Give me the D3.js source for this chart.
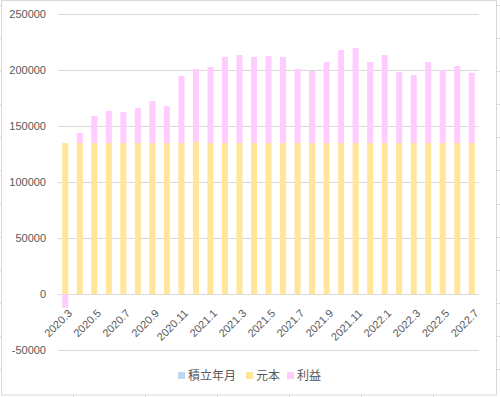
<!DOCTYPE html>
<html>
<head>
  <meta charset="utf-8">
  <script src="https://d3js.org/d3.v7.min.js"></script>
  <style>
    body { margin: 0; background: #fff; }
    text { font-family: "Liberation Sans", Arial, sans-serif; fill: #595959; }
    .legend text { font-family: "Noto Sans CJK JP", sans-serif; }
  </style>
</head>
<body>
<script>
// months (積立年月)
var months = ["2020.3","2020.4","2020.5","2020.6","2020.7","2020.8","2020.9","2020.10","2020.11","2020.12",
              "2021.1","2021.2","2021.3","2021.4","2021.5","2021.6","2021.7","2021.8","2021.9","2021.10","2021.11","2021.12",
              "2022.1","2022.2","2022.3","2022.4","2022.5","2022.6","2022.7"];
// 元本
var principal = [135000,135000,135000,135000,135000,135000,135000,135000,135000,136000,
                 135000,135000,135000,135000,135000,135000,135000,135000,135000,135000,135000,135000,
                 135000,135000,135000,135000,135000,135000,135000];
// 利益
var profit = [-12000,9000,24200,28700,27800,31400,37600,33100,59900,65200,
              68000,76900,78700,76900,77800,76900,66200,64400,72400,83100,84900,72400,
              78700,63500,60800,72400,65300,68800,62700];
var yTicks = [-50000,0,50000,100000,150000,200000,250000];
var legendItems = ["積立年月","元本","利益"];
var colors = {"積立年月": "#bdd7ee", "元本": "#ffe699", "利益": "#ffccff"};

var W = 500, H = 397;
var svg = d3.select("body").append("svg").attr("width", W).attr("height", H);

// outer chart border + bits of sheet grid peeking out
svg.append("rect").attr("x", 1.5).attr("y", 0.5).attr("width", 495).attr("height", 394.5)
   .attr("fill", "none").attr("stroke", "#d9d9d9");
[5, 38, 71, 104, 137, 170, 204, 237, 270, 303, 336, 369].forEach(function (yy) {
  svg.append("line").attr("x1", 0).attr("x2", 1).attr("y1", yy + .5).attr("y2", yy + .5).attr("stroke", "#d9d9d9");
  svg.append("line").attr("x1", 497).attr("x2", 500).attr("y1", yy + .5).attr("y2", yy + .5).attr("stroke", "#d9d9d9");
});
[73, 145, 217, 289, 361, 433].forEach(function (xx) {
  svg.append("line").attr("x1", xx + .5).attr("x2", xx + .5).attr("y1", 395).attr("y2", 397).attr("stroke", "#d9d9d9");
});

var x = d3.scaleBand().domain(months).range([58, 479]).paddingInner(0.587).paddingOuter(0.2935);
var y = d3.scaleLinear().domain([-50000, 250000]).range([350.3, 14.3]);

// gridlines
svg.append("g").selectAll("line").data(yTicks).enter().append("line")
   .attr("x1", 58).attr("x2", 479)
   .attr("y1", function (d) { return Math.round(y(d)) + .5; })
   .attr("y2", function (d) { return Math.round(y(d)) + .5; })
   .attr("stroke", "#d9d9d9").attr("stroke-width", 1);

// y labels
svg.append("g").selectAll("text").data(yTicks).enter().append("text")
   .attr("x", 46).attr("y", function (d) { return y(d) + 4; })
   .attr("text-anchor", "end").style("font-size", "11px")
   .text(function (d) { return d; });

// bars: 元本
svg.append("g").selectAll("rect").data(months).enter().append("rect")
   .attr("x", function (d) { return x(d); })
   .attr("width", x.bandwidth())
   .attr("y", function (d, i) { return y(principal[i]); })
   .attr("height", function (d, i) { return y(0) - y(principal[i]); })
   .attr("fill", colors["元本"]);

// bars: 利益 (stacked on top, negatives go below zero)
svg.append("g").selectAll("rect").data(months).enter().append("rect")
   .attr("x", function (d) { return x(d); })
   .attr("width", x.bandwidth())
   .attr("y", function (d, i) {
     return profit[i] >= 0 ? y(principal[i] + profit[i]) : y(0);
   })
   .attr("height", function (d, i) {
     return profit[i] >= 0 ? y(principal[i]) - y(principal[i] + profit[i]) : y(profit[i]) - y(0);
   })
   .attr("fill", colors["利益"]);

// x labels, every other month
svg.append("g").selectAll("text").data(months.filter(function (d, i) { return i % 2 === 0; }))
   .enter().append("text")
   .attr("transform", function (d) {
     return "translate(" + (x(d) + x.bandwidth() / 2 + 7.5) + ",314) rotate(-45)";
   })
   .attr("text-anchor", "end").style("font-size", "11px")
   .text(function (d) { return d; });

// legend
var lg = svg.append("g").attr("class", "legend");
var lx = [178, 246, 287];
legendItems.forEach(function (name, i) {
  lg.append("rect").attr("x", lx[i]).attr("y", 372).attr("width", 7).attr("height", 7).attr("fill", colors[name]);
  lg.append("text").attr("x", lx[i] + 10).attr("y", 380).style("font-size", "12px").text(name);
});
</script>
</body>
</html>
